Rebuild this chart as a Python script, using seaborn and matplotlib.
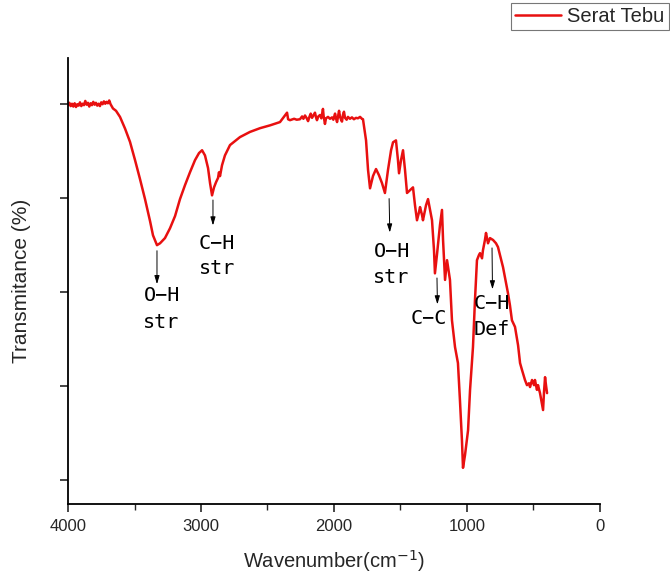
import matplotlib
matplotlib.use("Agg")
import matplotlib.pyplot as plt
import seaborn as sns
import pandas as pd
from matplotlib.ticker import MultipleLocator, NullFormatter
from matplotlib.lines import Line2D

wavenumber = [4000, 3990, 3980, 3970, 3960, 3950, 3940, 3930, 3920, 3910, 3900, 3890, 3880, 3870, 3860,
              3850, 3840, 3830, 3820, 3810, 3800, 3790, 3780, 3770, 3760, 3750, 3740, 3730, 3720, 3710,
              3700, 3690, 3680, 3670, 3662, 3639,
              3609, 3571, 3534, 3496, 3459, 3421, 3383, 3361, 3331, 3308, 3271, 3233, 3195, 3158, 3120,
              3083, 3045, 3015, 2992, 2970, 2947, 2932, 2917, 2902, 2887, 2872, 2865, 2857, 2842, 2820,
              2782, 2707, 2632, 2556, 2481, 2406, 2353, 2345, 2331, 2300, 2280, 2256, 2240, 2230, 2218,
              2205, 2195, 2185, 2175, 2165, 2155, 2143, 2135, 2128, 2118, 2105, 2095, 2088, 2083, 2078,
              2068, 2060, 2045, 2030, 2015, 2005, 1992, 1985, 1977, 1970, 1962, 1955, 1948, 1940, 1932,
              1925, 1917, 1905, 1895, 1880, 1865, 1850, 1835, 1820, 1804, 1790, 1782, 1759, 1744,
              1729, 1707, 1684, 1662, 1639, 1617, 1594, 1571, 1556, 1534, 1519, 1511, 1496, 1481, 1466,
              1451, 1428, 1406, 1391, 1376, 1361, 1353, 1338, 1331, 1308, 1293, 1278, 1263, 1248, 1241,
              1226, 1203, 1188, 1180, 1165, 1150, 1128, 1113, 1090, 1068, 1053, 1038, 1030, 1015, 992,
              977, 955, 940, 925, 910, 902, 887, 880, 865, 857, 842, 827, 804, 782, 767,
              752, 729, 707, 692, 677, 662, 646, 639, 616, 601, 586, 564, 549, 534, 526,
              511, 496, 489, 474, 466, 451, 444, 428, 421, 413, 406, 398]
transmittance = [99.8, 100.3, 99.6, 100.1, 99.5, 100.2, 99.4, 100.0, 99.7, 100.4, 99.6, 100.1, 99.8, 100.7, 99.9,
                 100.3, 99.5, 100.2, 99.8, 100.5, 99.9, 100.3, 99.7, 100.1, 99.6, 100.4, 100.0, 100.6, 100.1, 100.5,
                 100.2, 100.8, 100.0, 99.5, 99.1, 98.6,
                 97.3, 94.8, 92.0, 88.1, 84.1, 79.8, 75.1, 72.1, 70.0, 70.4, 71.5, 73.6, 76.2, 79.8, 82.8,
                 85.5, 88.1, 89.6, 90.2, 89.1, 86.4, 83.2, 80.6, 82.3, 83.4, 84.3, 85.5, 84.7, 87.0, 89.1,
                 91.3, 93.0, 94.1, 94.9, 95.5, 96.2, 98.2, 96.8, 96.6, 96.9, 96.7, 96.8, 97.4, 96.9, 97.6,
                 97.0, 96.4, 97.3, 98.0, 97.1, 97.6, 98.2, 97.2, 96.6, 97.4, 97.7, 97.0, 98.2, 99.0, 97.5,
                 95.8, 97.0, 97.3, 96.9, 97.2, 96.7, 98.0, 97.0, 96.2, 97.3, 98.6, 97.4, 96.8, 96.3, 97.8,
                 98.4, 97.1, 96.7, 97.3, 96.9, 97.2, 96.8, 97.1, 97.0, 97.3, 96.9, 96.8, 92.3, 86.0,
                 82.1, 84.7, 86.2, 84.9, 83.2, 81.1, 86.0, 90.2, 91.9, 92.3, 88.1, 85.3, 88.1, 90.2, 86.0,
                 81.1, 81.7, 82.3, 78.5, 75.3, 77.0, 78.1, 76.4, 75.3, 78.5, 79.8, 77.5, 75.3, 68.9, 64.0,
                 67.9, 74.3, 77.5, 71.1, 62.6, 66.8, 62.6, 54.0, 48.3, 44.9, 37.0, 28.5, 22.6, 25.3, 30.6,
                 39.2, 48.3, 58.3, 66.8, 67.9, 68.3, 67.2, 68.9, 71.1, 72.6, 70.4, 71.5, 71.1, 70.4, 69.6,
                 67.9, 65.3, 62.1, 59.8, 57.2, 54.0, 53.0, 52.6, 48.7, 44.9, 43.4, 41.3, 40.2, 40.6, 39.8,
                 41.3, 40.2, 41.3, 39.2, 40.2, 38.5, 37.4, 34.9, 38.7, 41.9, 40.2, 38.5]

series_name = "Serat Tebu"

# annotations: label lines, arrow tail (wn, T), arrow head (wn, T), text centre lines
annot_labels = [["O\u2212H", "str"], ["C\u2212H", "str"], ["O\u2212H", "str"], ["C\u2212C"], ["C\u2212H", "Def"]]
annot_tail = [(3331, 69.4), (2910, 80.2), (1586, 80.5), (1226, 63.6), (812, 70.0)]
annot_head = [(3331, 61.1), (2910, 73.6), (1580, 72.1), (1222, 56.8), (808, 60.0)]
annot_text = [[(3293, 59.2), (3301, 53.6)], [(2880, 70.4), (2880, 65.1)],
              [(1564, 68.7), (1571, 63.2)], [(1286, 54.3)], [(812, 57.5), (812, 52.1)]]

sns.set_style("ticks")
plt.rcParams["font.family"] = ["Liberation Sans", "DejaVu Sans"]

df = pd.DataFrame({"Wavenumber": wavenumber, "Transmittance": transmittance, "Sample": series_name})

fig = plt.figure(figsize=(6.7, 5.76), dpi=100)
ax = fig.add_axes([0.1015, 0.125, 0.794, 0.774])
sns.lineplot(data=df, x="Wavenumber", y="Transmittance", hue="Sample", sort=False,
             palette=["#e81010"], linewidth=1.8, ax=ax, legend=False)

ax.set_xlim(4000, 0)
ax.set_ylim(14.9, 109.8)
ax.xaxis.set_major_locator(MultipleLocator(1000))
ax.xaxis.set_minor_locator(MultipleLocator(500))
ax.yaxis.set_major_locator(MultipleLocator(20))
ax.yaxis.set_major_formatter(NullFormatter())
ax.tick_params(axis="x", which="major", length=6, width=1.2, labelsize=12, direction="out", pad=5)
ax.tick_params(axis="x", which="minor", length=4, width=1.0, direction="out")
ax.tick_params(axis="y", which="major", length=6, width=1.2, direction="out")
for s in ["top", "right"]:
    ax.spines[s].set_visible(False)
for s in ["left", "bottom"]:
    ax.spines[s].set_linewidth(1.3)
    ax.spines[s].set_color("black")

ax.set_xlabel("Wavenumber(cm$^{\\mathrm{-1}}$)", fontsize=14.5, labelpad=10)
ax.set_ylabel("Transmitance (%)", fontsize=15, labelpad=17)

for lines, tail, head, texts in zip(annot_labels, annot_tail, annot_head, annot_text):
    ax.annotate("", xy=head, xytext=tail,
                arrowprops=dict(arrowstyle="-|>,head_length=0.5,head_width=0.15", color="black", lw=0.7))
    for txt, pos in zip(lines, texts):
        ax.text(pos[0], pos[1], txt, ha="center", va="center", fontsize=14.5,
                family=["DejaVu Sans Mono"], color="black")

handle = Line2D([0], [0], color="#e81010", lw=1.8)
leg = fig.legend([handle], [series_name], loc="upper right", bbox_to_anchor=(0.998, 0.995),
                 fontsize=14.5, frameon=True, fancybox=False, handlelength=2.3, handletextpad=0.3,
                 borderpad=0.2, borderaxespad=0)
leg.get_frame().set_edgecolor("#555555")
leg.get_frame().set_linewidth(0.8)

fig.savefig("out.png", dpi=100)
